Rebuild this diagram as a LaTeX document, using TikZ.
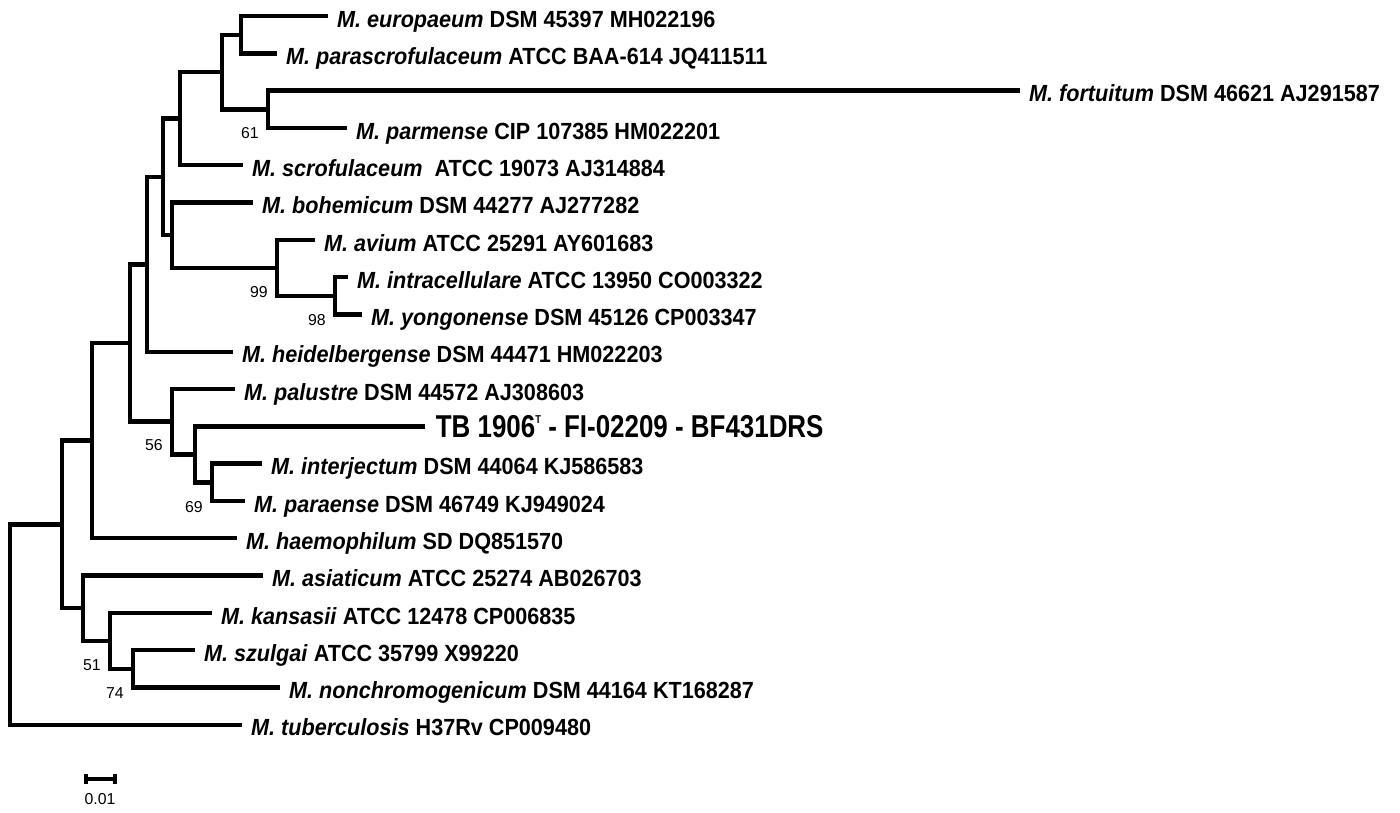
\documentclass[tikz,border=0pt]{standalone}
\usepackage{fontspec}
\setmainfont{Liberation Sans}
\newfontfamily\leaffont[FakeStretch=0.925]{Liberation Sans}
\newfontfamily\tbfont[FakeStretch=0.82]{Liberation Sans}

\begin{document}
\begin{tikzpicture}[x=0.02cm, y=-0.02cm,
  branch/.style={line width=2.5pt, line join=miter},
  leaf/.style={anchor=west, inner xsep=5pt, inner ysep=0pt, text height=12.8pt, text depth=0pt,
    font=\leaffont\bfseries\fontsize{13.3}{15}\selectfont},
  boot/.style={anchor=east, inner sep=0pt, font=\fontsize{9}{10}\selectfont}]

\useasboundingbox (0,0) rectangle (1400,812);

% hojas
\node[leaf] (eur) at (328,16) {\textit{M. europaeum} DSM 45397 MH022196};
\node[leaf] (par) at (277,53.3) {\textit{M. parascrofulaceum} ATCC BAA-614 JQ411511};
\node[leaf] (fort) at (1020,90.6) {\textit{M. fortuitum} DSM 46621 AJ291587};
\node[leaf] (parm) at (347,127.9) {\textit{M. parmense} CIP 107385 HM022201};
\node[leaf] (scr) at (243,165.2) {\textit{M. scrofulaceum}\ \ ATCC 19073 AJ314884};
\node[leaf] (boh) at (253,202.5) {\textit{M. bohemicum} DSM 44277 AJ277282};
\node[leaf] (avi) at (315,239.8) {\textit{M. avium} ATCC 25291 AY601683};
\node[leaf] (int) at (348,277.1) {\textit{M. intracellulare} ATCC 13950 CO003322};
\node[leaf] (yon) at (362,314.4) {\textit{M. yongonense} DSM 45126 CP003347};
\node[leaf] (hei) at (233,351.7) {\textit{M. heidelbergense} DSM 44471 HM022203};
\node[leaf] (pal) at (235,389) {\textit{M. palustre} DSM 44572 AJ308603};
\node[leaf, text height=12.9pt, inner xsep=6pt, font=\tbfont\bfseries\fontsize{18}{20}\selectfont] (tb) at (425,426.3)
  {TB 1906\raisebox{8pt}{\fontsize{6.5}{7}\selectfont T} - FI-02209 - BF431DRS}; % cepa nueva
\node[leaf] (itj) at (262,463.6) {\textit{M. interjectum} DSM 44064 KJ586583};
\node[leaf] (pae) at (245,500.9) {\textit{M. paraense} DSM 46749 KJ949024};
\node[leaf] (hae) at (237,538.2) {\textit{M. haemophilum} SD DQ851570};
\node[leaf] (asi) at (263,575.5) {\textit{M. asiaticum} ATCC 25274 AB026703};
\node[leaf] (kan) at (212,612.8) {\textit{M. kansasii} ATCC 12478 CP006835};
\node[leaf] (szu) at (195,650.1) {\textit{M. szulgai} ATCC 35799 X99220};
\node[leaf] (non) at (280,687.4) {\textit{M. nonchromogenicum} DSM 44164 KT168287};
\node[leaf] (tub) at (242,724.7) {\textit{M. tuberculosis} H37Rv CP009480};

% nodos internos
\coordinate (L) at (241,34.7);
\coordinate (M) at (268,109.3);
\coordinate (K) at (222,72);
\coordinate (I) at (180,118.6);
\coordinate (O) at (335,295.8);
\coordinate (N) at (277,267.8);
\coordinate (J) at (172,235.2);
\coordinate (H) at (163,176.9);
\coordinate (A) at (147,264.3);
\coordinate (S) at (212,482.3);
\coordinate (Q) at (195,454.3);
\coordinate (P) at (172,421.6);
\coordinate (B) at (130,343);
\coordinate (C) at (92,440.6);
\coordinate (G) at (133,668.8);
\coordinate (F) at (110,640.8);
\coordinate (E) at (83,608.2);
\coordinate (D) at (62,524.4);
\coordinate (R) at (10,624.5); % raiz

% ramas
\draw[branch] (eur.west) -| (L) |- (par.west);
\draw[branch] (fort.west) -| (M) |- (parm.west);
\draw[branch] (L) -| (K) |- (M);
\draw[branch] (K) -| (I) |- (scr.west);
\draw[branch] (int.west) -| (O) |- (yon.west);
\draw[branch] (avi.west) -| (N) |- (O);
\draw[branch] (boh.west) -| (J) |- (N);
\draw[branch] (I) -| (H) |- (J);
\draw[branch] (H) -| (A) |- (hei.west);
\draw[branch] (itj.west) -| (S) |- (pae.west);
\draw[branch] (tb.west) -| (Q) |- (S);
\draw[branch] (pal.west) -| (P) |- (Q);
\draw[branch] (A) -| (B) |- (P);
\draw[branch] (B) -| (C) |- (hae.west);
\draw[branch] (szu.west) -| (G) |- (non.west);
\draw[branch] (kan.west) -| (F) |- (G);
\draw[branch] (asi.west) -| (E) |- (F);
\draw[branch] (C) -| (D) |- (E);
\draw[branch] (D) -| (R) |- (tub.west);

% bootstrap
\node[boot] (b61) at (259,133) {61};
\node[boot] (b99) at (268,292) {99};
\node[boot] (b98) at (326,320) {98};
\node[boot] (b56) at (163,445) {56};
\node[boot] (b69) at (203,507) {69};
\node[boot] (b51) at (101,665) {51};
\node[boot] (b74) at (124,693) {74};

% escala
\coordinate (sb1) at (86,779);
\coordinate (sb2) at (115,779);
\draw[branch] (sb1) -- (sb2);
\draw[branch] ([yshift=0.1cm]sb1) -- ([yshift=-0.1cm]sb1);
\draw[branch] ([yshift=0.1cm]sb2) -- ([yshift=-0.1cm]sb2);
\node[inner sep=0pt, font=\fontsize{9}{10}\selectfont] (sbl) at (100,799) {0.01};

\end{tikzpicture}
\end{document}
